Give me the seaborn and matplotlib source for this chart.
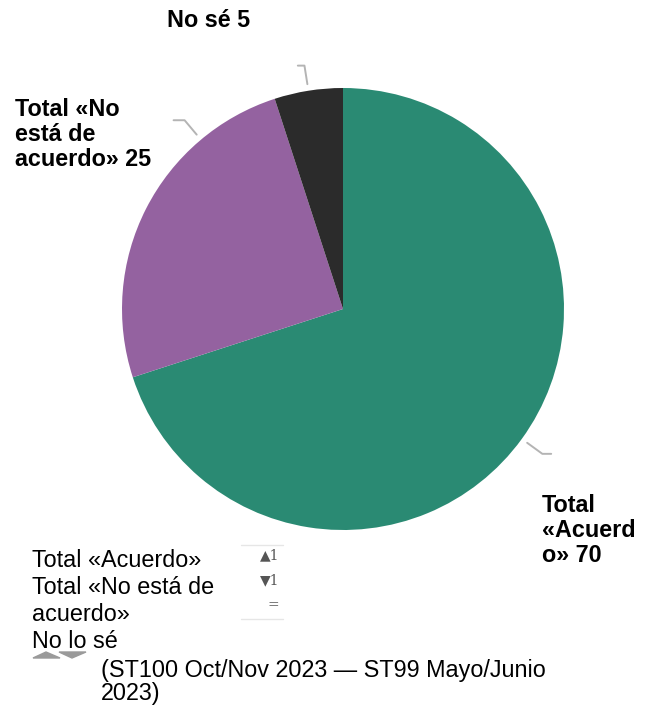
import matplotlib
matplotlib.use("Agg")
import numpy as np
import matplotlib.pyplot as plt
import seaborn as sns
from matplotlib.patches import Polygon

# Data
categories = ["Total «Acuerdo»", "Total «No está de acuerdo»", "No sé"]
values = [70, 25, 5]
slice_labels = ["Total\n«Acuerd\no» 70", "Total «No\nestá de\nacuerdo» 25", "No sé 5"]
legend_lines = ["Total «Acuerdo»", "Total «No está de", "acuerdo»", "No lo sé"]
change_marks = ["▲1", "▼1", "="]
footnote = "(ST100 Oct/Nov 2023 — ST99 Mayo/Junio\n2023)"
colors = ["#2a8a73", "#9462a0", "#2b2b2b"]

sns.set_theme(style="white")
plt.rcParams["font.family"] = ["Liberation Sans", "DejaVu Sans"]

W, H = 654, 709
fig = plt.figure(figsize=(W / 100, H / 100), dpi=100)


def px(x, y):
    # pixel position (from top-left) -> figure fraction
    return x / W, 1 - y / H


# Pie
cx, cy, r = 343, 309, 221
ax = fig.add_axes([(cx - r) / W, (H - cy - r) / H, 2 * r / W, 2 * r / H])
wedges, _ = ax.pie(values, colors=colors, startangle=90, counterclock=False,
                   wedgeprops=dict(linewidth=0))
ax.set_xlim(-1, 1)
ax.set_ylim(-1, 1)
ax.axis("off")

# Leader lines (angle shift and horizontal tail for each label)
shifts = [0, -23, 0]
tails = [0.04, -0.05, -0.03]
for w, sh, tl in zip(wedges, shifts, tails):
    ang = np.deg2rad((w.theta1 + w.theta2) / 2 + sh)
    x0, y0 = 1.03 * np.cos(ang), 1.03 * np.sin(ang)
    x1, y1 = 1.115 * np.cos(ang), 1.115 * np.sin(ang)
    ax.plot([x0, x1, x1 + tl], [y0, y1, y1], color="#b4b4b4", lw=1.4,
            clip_on=False, solid_capstyle="round")

# Slice labels (y = baseline of last line)
fs = 16.8
label_pos = [(542, 562), (15, 166), (167, 27)]
for txt, (x, y) in zip(slice_labels, label_pos):
    fig.text(*px(x, y), txt, fontsize=fs, fontweight="bold", va="baseline",
             ha="left", linespacing=1.12, color="#000000")

# Legend text
for i, line in enumerate(legend_lines):
    fig.text(*px(32, 567 + i * 27), line, fontsize=fs, va="baseline", ha="left",
             color="#000000")

# Change markers box
fig.add_artist(plt.Line2D([241 / W, 283 / W], [1 - 545 / H] * 2, color="#e6e6e6", lw=1))
fig.add_artist(plt.Line2D([241 / W, 283 / W], [1 - 619 / H] * 2, color="#e6e6e6", lw=1))
for i, m in enumerate(change_marks):
    fig.text(*px(279, 555 + i * 25), m, fontsize=10, va="center", ha="right",
             color="#555555", family=["DejaVu Serif"])

# Trend triangles
tri_up = Polygon([px(33, 658), px(60, 658), px(46, 652)], closed=True,
                 color="#9a9a9a", transform=fig.transFigure)
tri_dn = Polygon([px(59, 652), px(86, 652), px(72, 658)], closed=True,
                 color="#9a9a9a", transform=fig.transFigure)
fig.add_artist(tri_up)
fig.add_artist(tri_dn)

# Footnote (y = baseline of last line)
fig.text(*px(101, 700), footnote, fontsize=fs, va="baseline", ha="left",
         linespacing=1.0, color="#000000")

fig.savefig("out.png", dpi=100)
